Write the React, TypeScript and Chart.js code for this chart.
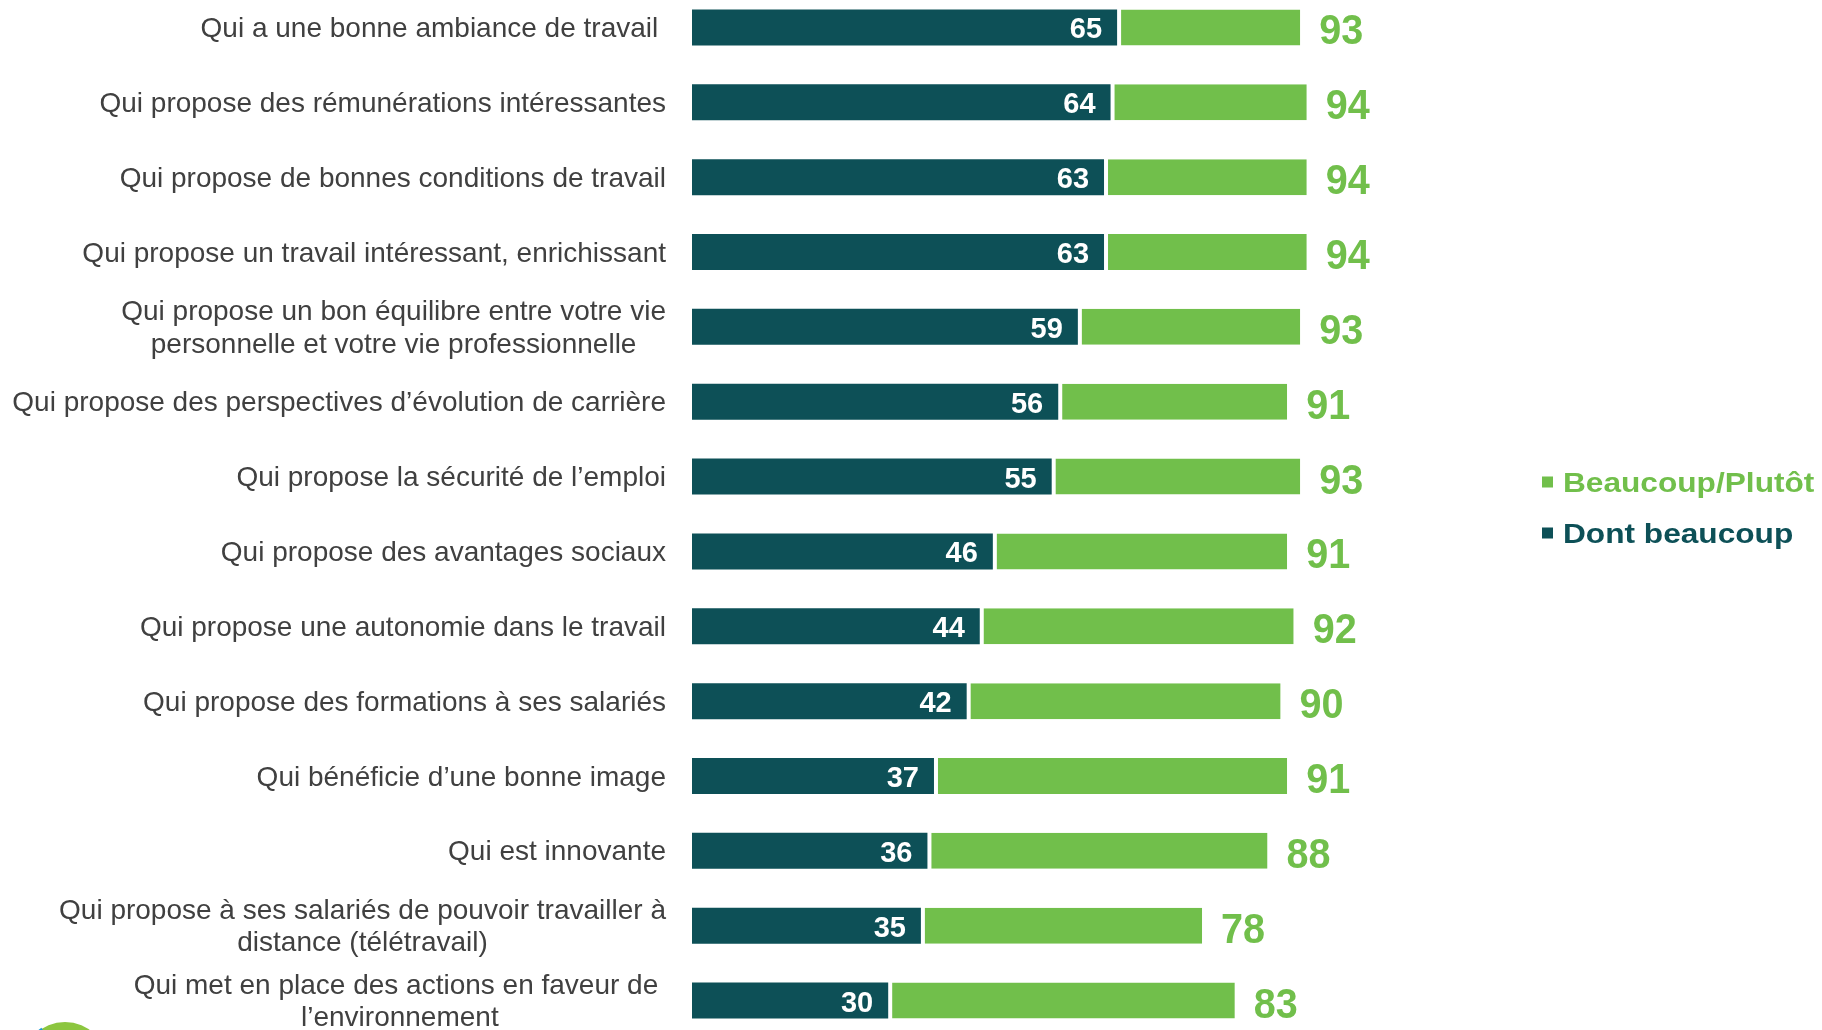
import { useEffect, useRef } from 'react';
import { Chart, registerables } from 'chart.js';

Chart.register(...registerables);

const categories: (string | string[])[] = [
  'Qui a une bonne ambiance de travail ',
  'Qui propose des rémunérations intéressantes',
  'Qui propose de bonnes conditions de travail',
  'Qui propose un travail intéressant, enrichissant',
  ['Qui propose un bon équilibre entre votre vie', 'personnelle et votre vie professionnelle'],
  'Qui propose des perspectives d’évolution de carrière',
  'Qui propose la sécurité de l’emploi',
  'Qui propose des avantages sociaux',
  'Qui propose une autonomie dans le travail',
  'Qui propose des formations à ses salariés',
  'Qui bénéficie d’une bonne image',
  'Qui est innovante',
  ['Qui propose à ses salariés de pouvoir travailler à', 'distance (télétravail)'],
  ['Qui met en place des actions en faveur de ', 'l’environnement'],
];

const dontBeaucoup = [65, 64, 63, 63, 59, 56, 55, 46, 44, 42, 37, 36, 35, 30];
const beaucoupPlutot = [93, 94, 94, 94, 93, 91, 93, 91, 92, 90, 91, 88, 78, 83];

const legendLabels = ['Beaucoup/Plutôt', 'Dont beaucoup'];

const DARK = '#0D5057';
const GREEN = '#71BF4B';
const TEXT = '#404040';
const FONT = '"Liberation Sans", Arial, Helvetica, sans-serif';

const CANVAS_W = 1822;
const CANVAS_H = 1048;
const OFFSET_TOP = 10; // canvas is shifted up by this many px
const LABEL_RIGHT = 666;

const textPlugin = {
  id: 'textPlugin',
  afterDatasetsDraw(chart: any) {
    const ctx: CanvasRenderingContext2D = chart.ctx;
    const xs = chart.scales.x;
    const ys = chart.scales.y;
    const labels = chart.data.labels as (string | string[])[];
    ctx.save();
    labels.forEach((lab, i) => {
      const yc = ys.getPixelForValue(i);
      const lines = Array.isArray(lab) ? lab : [lab];
      // category label
      ctx.font = `28px ${FONT}`;
      ctx.fillStyle = TEXT;
      ctx.textAlign = 'center';
      ctx.textBaseline = 'alphabetic';
      const maxW = Math.max(...lines.map((l) => ctx.measureText(l).width));
      const cx = LABEL_RIGHT - maxW / 2;
      const lh = 32.5;
      lines.forEach((l, k) => {
        ctx.fillText(l, cx, yc + 9.5 + (k - (lines.length - 1) / 2) * lh);
      });
      // dark value (white, inside)
      ctx.font = `bold 29px ${FONT}`;
      ctx.fillStyle = '#ffffff';
      ctx.textAlign = 'right';
      ctx.fillText(String(dontBeaucoup[i]), xs.getPixelForValue(dontBeaucoup[i]) - 15, yc + 11);
      // total value (green, outside)
      ctx.save();
      ctx.translate(xs.getPixelForValue(beaucoupPlutot[i]) + 19, yc + 17);
      ctx.scale(0.92, 1);
      ctx.font = `bold 43px ${FONT}`;
      ctx.fillStyle = GREEN;
      ctx.textAlign = 'left';
      ctx.fillText(String(beaucoupPlutot[i]), 0, 0);
      ctx.restore();
    });

    // legend
    const legendItems = [
      { text: legendLabels[0], color: GREEN, y: 482 },
      { text: legendLabels[1], color: DARK, y: 533 },
    ];
    legendItems.forEach((it) => {
      const cy = it.y + OFFSET_TOP;
      ctx.fillStyle = it.color;
      ctx.fillRect(1542, cy - 5.5, 11, 11);
      ctx.save();
      ctx.translate(1563, cy + 10);
      ctx.scale(1.13, 1);
      ctx.font = `bold 28px ${FONT}`;
      ctx.textAlign = 'left';
      ctx.textBaseline = 'alphabetic';
      ctx.fillText(it.text, 0, 0);
      ctx.restore();
    });

    // partial logo at bottom-left
    const lx = 65;
    const ly = 1065 + OFFSET_TOP;
    ctx.beginPath();
    ctx.arc(lx, ly, 43, 0, Math.PI * 2);
    ctx.fillStyle = '#8CC63F';
    ctx.fill();
    ctx.beginPath();
    ctx.moveTo(lx, ly);
    ctx.arc(lx, ly, 44, Math.PI * 1.15, Math.PI * 1.32);
    ctx.closePath();
    ctx.fillStyle = '#1E9BD7';
    ctx.fill();
    ctx.restore();
  },
};

export default function App() {
  const ref = useRef<HTMLCanvasElement | null>(null);

  useEffect(() => {
    if (!ref.current) return;
    const chart = new Chart(ref.current, {
      type: 'bar',
      data: {
        labels: categories as any,
        datasets: [
          {
            label: legendLabels[1],
            data: dontBeaucoup,
            backgroundColor: DARK,
            borderWidth: 0,
            barPercentage: 0.481,
            categoryPercentage: 1,
          },
          {
            label: legendLabels[0],
            data: beaucoupPlutot.map((t, i) => t - dontBeaucoup[i]),
            backgroundColor: GREEN,
            borderColor: '#ffffff',
            borderWidth: { left: 4, right: 0, top: 0, bottom: 0 },
            borderSkipped: false,
            barPercentage: 0.481,
            categoryPercentage: 1,
          },
        ],
      },
      options: {
        indexAxis: 'y',
        responsive: false,
        animation: false,
        devicePixelRatio: 1,
        layout: { padding: { left: 692, right: CANVAS_W - 1346, top: 0, bottom: 0 } },
        scales: {
          x: { stacked: true, min: 0, max: 100, display: false },
          y: { stacked: true, display: false },
        },
        plugins: {
          legend: { display: false },
          tooltip: { enabled: false },
        },
      },
      plugins: [textPlugin],
    } as any);
    return () => chart.destroy();
  }, []);

  return (
    <div
      style={{
        position: 'fixed',
        left: 0,
        top: 0,
        width: CANVAS_W,
        height: 1030,
        overflow: 'hidden',
        background: '#ffffff',
      }}
    >
      <canvas
        ref={ref}
        width={CANVAS_W}
        height={CANVAS_H}
        style={{ position: 'absolute', left: 0, top: -OFFSET_TOP, width: CANVAS_W, height: CANVAS_H }}
      />
    </div>
  );
}
